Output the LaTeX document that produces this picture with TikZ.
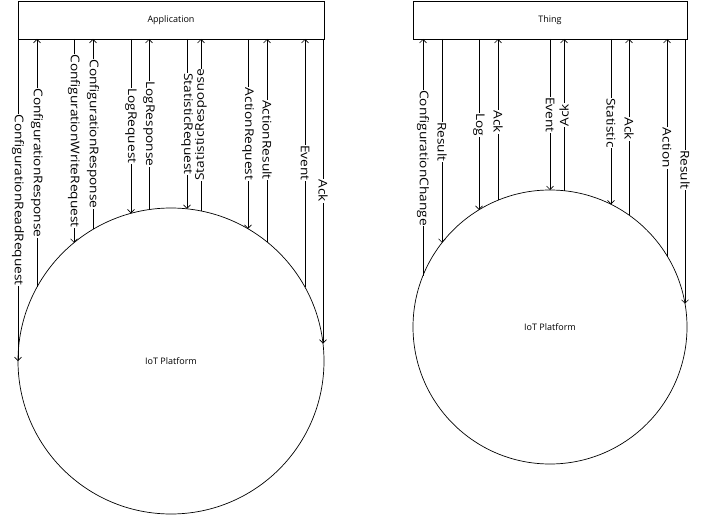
\documentclass[tikz,border=0pt]{standalone}
\usepackage{fontspec}
\setmainfont{Open Sans}
\newfontfamily\labfont[FakeStretch=1.14]{Open Sans}
\usetikzlibrary{arrows.meta}
\tikzset{
  shp/.style={draw=black,line width=0.7pt},
  conn/.style={draw=black,line width=0.7pt},
  arrdn/.style={-{Straight Barb[length=3.5pt,width=7pt,line width=0.6pt]}},
  arrup/.style={{Straight Barb[length=3.5pt,width=7pt,line width=0.6pt]}-},
  lab/.style={fill=white,inner sep=0.6pt,font=\labfont\fontsize{12}{14}\selectfont},
  small/.style={font=\fontsize{9}{11}\selectfont}
}
\begin{document}
\begin{tikzpicture}[x=1pt,y=-1pt]
\useasboundingbox (0,0) rectangle (701,516);
% Application side
\node[shp,small,minimum width=306pt,minimum height=38pt,inner sep=0pt] (app) at (171,20) {Application};
\node[shp,small,circle,minimum size=306pt,inner sep=0pt] (plat1) at (171,361) {IoT Platform};
\foreach \x/\ly/\t/\d/\rot [count=\i] in {
  18/200/ConfigurationReadRequest/arrdn/-90,
  37/163/ConfigurationResponse/arrup/-90,
  74/141/ConfigurationWriteRequest/arrdn/-90,
  93/134/ConfigurationResponse/arrup/-90,
  131/126/LogRequest/arrdn/-90,
  149/124/LogResponse/arrup/-90,
  187/124/StatisticRequest/arrdn/-90,
  201/125/StatisticResponse/arrup/90,
  248/134/ActionRequest/arrdn/-90,
  267/140/ActionResult/arrup/-90,
  305/163/Event/arrup/-90,
  323/191/Ack/arrdn/-90}{
  \coordinate (At\i) at (\x,39);
  \coordinate (Ab\i) at (\x,{361-153*sqrt(max(0,1-((\x-171)/153)^2))});
  \draw[conn,\d] (At\i) -- (Ab\i);
  \node[lab,rotate=\rot] (Al\i) at (\x,\ly) {\t};
}
% Thing side
\node[shp,small,minimum width=274pt,minimum height=38pt,inner sep=0pt] (thing) at (550,20) {Thing};
\node[shp,small,circle,minimum size=274pt,inner sep=0pt] (plat2) at (550,327) {IoT Platform};
\foreach \x/\ly/\t/\d/\rot [count=\i] in {
  423/158/ConfigurationChange/arrup/-90,
  442/142/Result/arrdn/-90,
  479/125/Log/arrdn/-90,
  498/122/Ack/arrup/-90,
  550/115/Event/arrdn/-90,
  564/115/Ack/arrup/90,
  611/123/Statistic/arrdn/-90,
  629/129/Ack/arrup/-90,
  667/148/Action/arrup/-90,
  685/170/Result/arrdn/-90}{
  \coordinate (Tt\i) at (\x,39);
  \coordinate (Tb\i) at (\x,{327-137*sqrt(max(0,1-((\x-550)/137)^2))});
  \draw[conn,\d] (Tt\i) -- (Tb\i);
  \node[lab,rotate=\rot] (Tl\i) at (\x,\ly) {\t};
}
\end{tikzpicture}
\end{document}
